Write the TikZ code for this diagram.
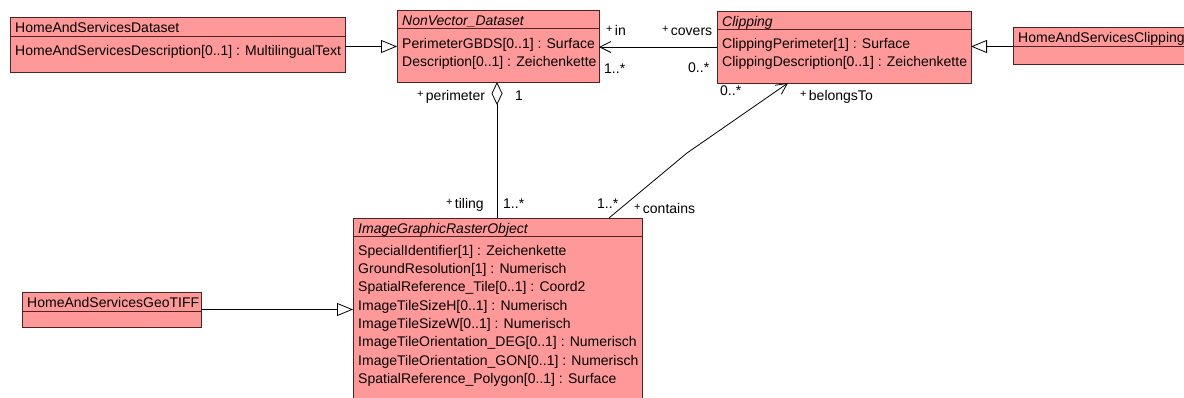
\documentclass[tikz,border=0pt]{standalone}
\usepackage{fontspec}
\setmainfont{Liberation Sans}
\usetikzlibrary{arrows.meta}
\definecolor{clsfill}{RGB}{255,153,153}
\definecolor{clsdraw}{RGB}{80,35,35}
\newcommand\pls{\raisebox{2.5pt}{\fontsize{11}{11}\selectfont +}\,}
\begin{document}
\begin{tikzpicture}[x=1pt,y=-1pt,
  cls/.style={draw=clsdraw, fill=clsfill, line width=1pt, rectangle, inner sep=0pt, outer sep=0pt, anchor=north west},
  txt/.style={inner sep=0pt, anchor=base west, font=\fontsize{14}{16}\selectfont},
  hd/.style={txt, font=\fontsize{14}{16}\selectfont\itshape},
  sepline/.style={draw=clsdraw, line width=1pt},
  conn/.style={line width=0.8pt, black},
  gen/.style={conn, -{Triangle[open, fill=white, length=16pt, width=13pt]}},
  nav/.style={conn, -{Straight Barb[length=11pt, width=11pt]}},
  agg/.style={conn, {Diamond[open, fill=white, length=23pt, width=11pt]}-}]
\useasboundingbox (0,0) rectangle (1184,397);
\clip (0,0) rectangle (1184,397);
\fill[white] (0,0) rectangle (1184,397);

% classes
\node[cls, minimum width=335pt, minimum height=55pt] (ds) at (10,17) {};
\draw[sepline] ([yshift=-19pt]ds.north west) -- ([yshift=-19pt]ds.north east);
\node[txt] (dsh) at (15,32) {HomeAndServicesDataset};
\node[txt] (dsa) at (15,55) {HomeAndServicesDescription[0..1] : MultilingualText};

\node[cls, minimum width=202pt, minimum height=72pt] (nv) at (397,10) {};
\draw[sepline] ([yshift=-18.5pt]nv.north west) -- ([yshift=-18.5pt]nv.north east);
\node[hd] (nvh) at (402,25) {NonVector\_Dataset};
\node[txt] (nva) at (402,48) {PerimeterGBDS[0..1] : Surface};
\node[txt] (nvb) at (402,66.3) {Description[0..1] : Zeichenkette};

\node[cls, minimum width=254pt, minimum height=72pt] (clip) at (717,11) {};
\draw[sepline] ([yshift=-18pt]clip.north west) -- ([yshift=-18pt]clip.north east);
\node[hd] (cliph) at (722,26) {Clipping};
\node[txt] (clipa) at (722,48.5) {ClippingPerimeter[1] : Surface};
\node[txt] (clipb) at (722,66.8) {ClippingDescription[0..1] : Zeichenkette};

\node[cls, minimum width=200pt, minimum height=37pt] (hsc) at (1013,27) {};
\draw[sepline] ([yshift=-19pt]hsc.north west) -- ([yshift=-19pt]hsc.north east);
\node[txt] (hsch) at (1018,42) {HomeAndServicesClipping};

\node[cls, minimum width=289pt, minimum height=185pt] (rast) at (353,218) {};
\draw[sepline] ([yshift=-18pt]rast.north west) -- ([yshift=-18pt]rast.north east);
\node[hd] (rasth) at (358,233) {ImageGraphicRasterObject};
\node[txt] (ra1) at (358,255) {SpecialIdentifier[1] : Zeichenkette};
\node[txt] (ra2) at (358,273.3) {GroundResolution[1] : Numerisch};
\node[txt] (ra3) at (358,291.6) {SpatialReference\_Tile[0..1] : Coord2};
\node[txt] (ra4) at (358,310) {ImageTileSizeH[0..1] : Numerisch};
\node[txt] (ra5) at (358,328.3) {ImageTileSizeW[0..1] : Numerisch};
\node[txt] (ra6) at (358,346.6) {ImageTileOrientation\_DEG[0..1] : Numerisch};
\node[txt] (ra7) at (358,365) {ImageTileOrientation\_GON[0..1] : Numerisch};
\node[txt] (ra8) at (358,383.3) {SpatialReference\_Polygon[0..1] : Surface};

\node[cls, minimum width=179pt, minimum height=35pt] (geo) at (22,292) {};
\draw[sepline] ([yshift=-19pt]geo.north west) -- ([yshift=-19pt]geo.north east);
\node[txt] (geoh) at (27,307) {HomeAndServicesGeoTIFF};

% connectors
\draw[gen] ([yshift=-2pt]ds.east) -- ([yshift=-2pt]ds.east -| nv.west);
\draw[gen] ([yshift=-1pt]hsc.west) -- ([yshift=-1pt]hsc.west -| clip.east);
\draw[gen] (geo.east) -- (geo.east -| rast.west);
\draw[nav] (clip.west) -- (clip.west -| nv.east);
\draw[agg] ([xshift=100pt]nv.south west) -- ([xshift=144pt]rast.north west);
\coordinate (bend) at (687,153);
\draw[nav] ([xshift=256pt]rast.north west) -- (bend) -- ([xshift=71pt]clip.south west);

% labels
\node[txt] (lin) at (606,35) {\pls in};
\node[txt] (lin1) at (604,73) {1..*};
\node[txt] (lcov) at (662,35) {\pls covers};
\node[txt] (lcov1) at (688,72) {0..*};
\node[txt] (lper) at (417,100) {\pls perimeter};
\node[txt] (lper1) at (515,100) {1};
\node[txt] (ltil) at (446,208) {\pls tiling};
\node[txt] (ltil1) at (503,208) {1..*};
\node[txt] (lcon1) at (597,208) {1..*};
\node[txt] (lcon) at (634,213) {\pls contains};
\node[txt] (lbel1) at (720,95) {0..*};
\node[txt] (lbel) at (800,100) {\pls belongsTo};
\end{tikzpicture}
\end{document}
